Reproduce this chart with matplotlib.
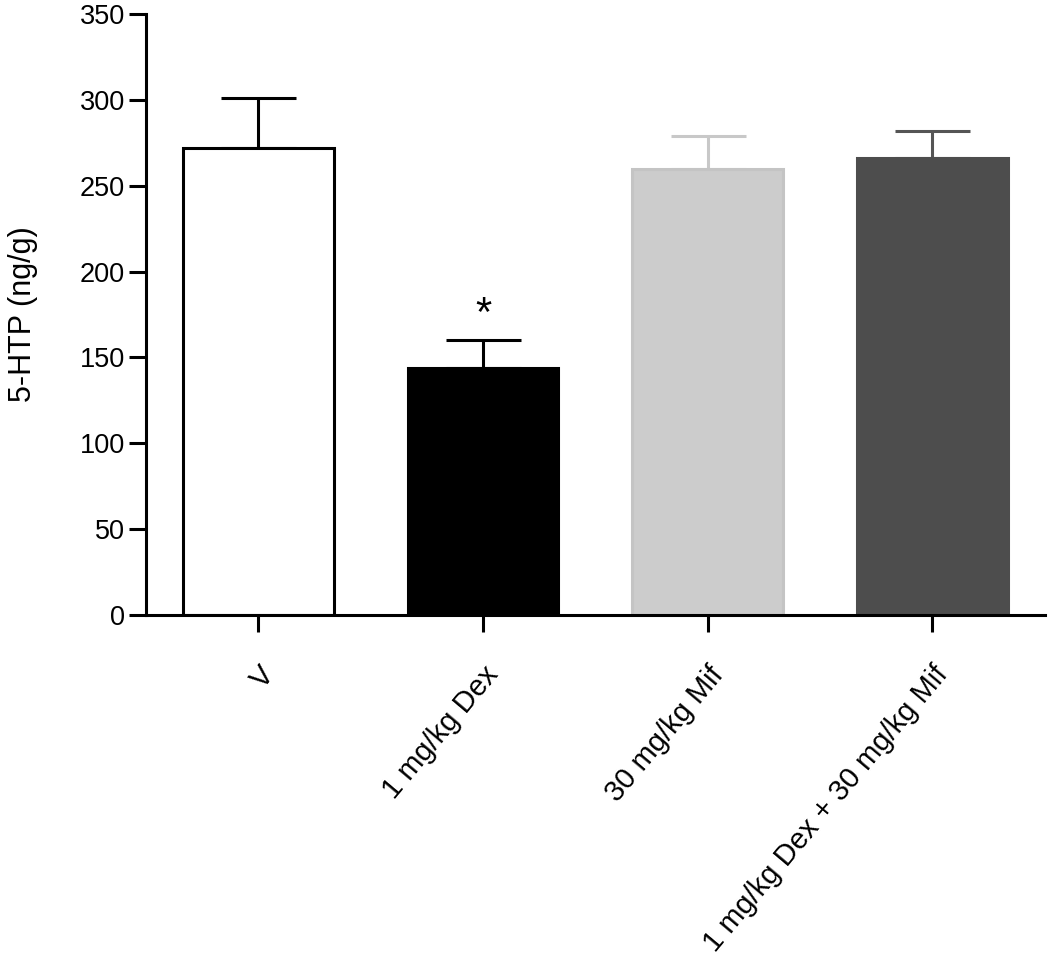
import matplotlib
matplotlib.use("Agg")
import matplotlib.pyplot as plt

plt.rcParams['font.family'] = ['Liberation Sans', 'DejaVu Sans']

# group names and measured 5-HTP levels (mean, SEM)
groups = ["V", "1 mg/kg Dex", "30 mg/kg Mif", "1 mg/kg Dex + 30 mg/kg Mif"]
means = [272, 144, 260, 266]
sems = [29, 16, 19, 16]
signif = ["", "*", "", ""]

face_colors = ["white", "black", "#cccccc", "#4d4d4d"]
edge_colors = ["black", "black", "#c4c4c4", "#4d4d4d"]
err_colors = ["black", "black", "#c8c8c8", "#555555"]

fig = plt.figure(figsize=(10.5, 9.71), dpi=100)
ax = fig.add_axes([0.139, 0.3666, 0.856, 0.619])

x = list(range(len(groups)))
for i in x:
    ax.bar(i, means[i], width=0.67, color=face_colors[i], edgecolor=edge_colors[i],
           linewidth=2.2, zorder=2)
    ax.errorbar(i, means[i], yerr=[[0], [sems[i]]], fmt='none', ecolor=err_colors[i],
                elinewidth=2.2, capsize=27, capthick=2.2, zorder=1)
    if signif[i]:
        ax.text(i, means[i] + sems[i] + 3, signif[i], ha='center', va='bottom', fontsize=30)

ax.set_xlim(-0.5, 3.5)
ax.set_ylim(0, 350)
ax.set_yticks(range(0, 351, 50))
ax.set_xticks(x)
ax.set_xticklabels(groups, rotation=50, ha='right', rotation_mode='anchor', fontsize=21)
ax.set_ylabel("5-HTP (ng/g)", fontsize=22, labelpad=30)

for side in ['top', 'right']:
    ax.spines[side].set_visible(False)
for side in ['left', 'bottom']:
    ax.spines[side].set_linewidth(2.2)
ax.tick_params(axis='both', width=2.2, length=12, labelsize=19.5)
ax.tick_params(axis='x', pad=21, labelsize=21)
ax.tick_params(axis='y', pad=3)

fig.savefig("out.png", dpi=100)
